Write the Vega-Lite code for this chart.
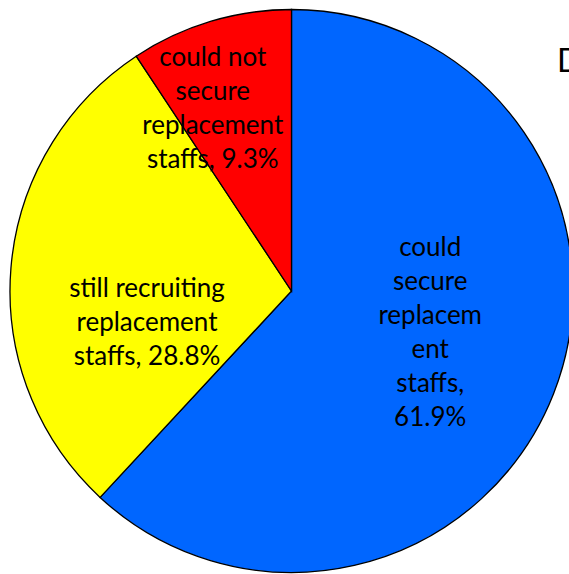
{
  "$schema": "https://vega.github.io/schema/vega-lite/v6.json",
  "width": 569,
  "height": 574,
  "autosize": {"type": "none"},
  "padding": 0,
  "background": "white",
  "config": {"view": {"stroke": null}},
  "title": {
    "text": "D",
    "anchor": "start",
    "frame": "group",
    "font": "Lato",
    "fontSize": 32,
    "fontWeight": "normal",
    "color": "black",
    "baseline": "alphabetic",
    "offset": 0,
    "dx": 557,
    "dy": 104
  },
  "data": {
    "values": [
      {"category": "could secure replacement staffs", "share": 61.9, "label": "could\nsecure\nreplacem\nent\nstaffs,\n61.9%"},
      {"category": "still recruiting replacement staffs", "share": 28.8, "label": "still recruiting\nreplacement\nstaffs, 28.8%"},
      {"category": "could not secure replacement staffs", "share": 9.3, "label": "could not\nsecure\nreplacement\nstaffs, 9.3%"}
    ]
  },
  "encoding": {
    "theta": {"field": "share", "type": "quantitative", "stack": true},
    "order": {"field": "share", "sort": "descending"},
    "x": {"value": 291.5},
    "y": {"value": 291}
  },
  "layer": [
    {
      "mark": {"type": "arc", "radius": 281.5, "stroke": "black", "strokeWidth": 1.3},
      "encoding": {
        "color": {
          "field": "category",
          "type": "nominal",
          "scale": {
            "domain": ["could secure replacement staffs", "still recruiting replacement staffs", "could not secure replacement staffs"],
            "range": ["#0066FF", "#FFFF00", "#FF0000"]
          },
          "legend": null
        }
      }
    },
    {
      "mark": {"type": "text", "font": "Lato", "fontSize": 26, "lineBreak": "\n", "lineHeight": 34, "align": "center", "baseline": "alphabetic", "color": "black", "radius": 149, "dx": 0, "dy": -89},
      "encoding": {
        "text": {"condition": {"test": "datum.category === 'could secure replacement staffs'", "field": "label"}, "value": ""}
      }
    },
    {
      "mark": {"type": "text", "font": "Lato", "fontSize": 26, "lineBreak": "\n", "lineHeight": 34, "align": "center", "baseline": "alphabetic", "color": "black", "radius": 145, "dx": 0, "dy": 18},
      "encoding": {
        "text": {"condition": {"test": "datum.category === 'still recruiting replacement staffs'", "field": "label"}, "value": ""}
      }
    },
    {
      "mark": {"type": "text", "font": "Lato", "fontSize": 26, "lineBreak": "\n", "lineHeight": 34, "align": "center", "baseline": "alphabetic", "color": "black", "radius": 190, "dx": -24, "dy": -43},
      "encoding": {
        "text": {"condition": {"test": "datum.category === 'could not secure replacement staffs'", "field": "label"}, "value": ""}
      }
    }
  ]
}
